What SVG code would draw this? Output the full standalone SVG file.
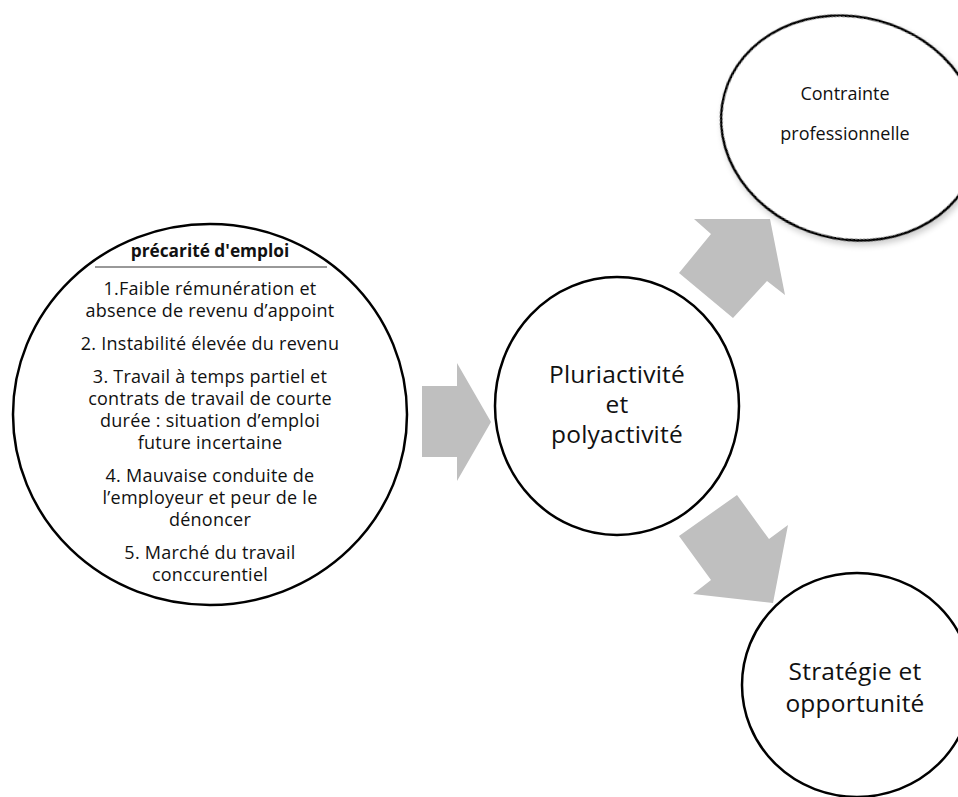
<svg xmlns="http://www.w3.org/2000/svg" width="958" height="797" viewBox="0 0 958 797">
<style>
.node{fill:#ffffff;stroke:#000000;stroke-width:2.5}
.arrow{fill:#bfbfbf;stroke:none}
text{font-family:"Open Sans","Noto Sans","Liberation Sans",sans-serif;fill:#111111;text-anchor:middle}
.small{font-size:18px;letter-spacing:0.25px}
.title{font-size:17.3px;font-weight:bold}
.big{font-size:24.5px;letter-spacing:0.2px}
.mid{font-size:18px}
</style>
<defs>
<filter id="sh" x="-20%" y="-20%" width="140%" height="140%">
<feGaussianBlur in="SourceAlpha" stdDeviation="3"/>
<feOffset dx="3" dy="3" result="b"/>
<feComponentTransfer><feFuncA type="linear" slope="0.2"/></feComponentTransfer>
<feMerge><feMergeNode/><feMergeNode in="SourceGraphic"/></feMerge>
</filter>
</defs>
<rect width="958" height="797" fill="#ffffff"/>
<g id="connectors">
<polygon class="arrow" points="422,386 457,386 457,363 491,422 457,481 457,457 422,457"/>
<polygon class="arrow" points="694,219 770,219 785,295 767,281 733,318 679,273 711,234"/>
<polygon class="arrow" points="737,495 769,539 788,525 773,603 693,594 711,580 679,536"/>
</g>
<g id="node-precarite">
<ellipse class="node" cx="210" cy="414.5" rx="197" ry="190.5"/>
<text class="title" x="210" y="257">précarité d'emploi</text>
<line x1="95" y1="267" x2="327" y2="267" stroke="#333333" stroke-width="1"/>
<text class="small" x="210" y="295">1.Faible rémunération et</text>
<text class="small" x="210" y="317">absence de revenu d’appoint</text>
<text class="small" x="210" y="350">2. Instabilité élevée du revenu</text>
<text class="small" x="210" y="383">3. Travail à temps partiel et</text>
<text class="small" x="210" y="405">contrats de travail de courte</text>
<text class="small" x="210" y="427">durée : situation d’emploi</text>
<text class="small" x="210" y="449">future incertaine</text>
<text class="small" x="210" y="482">4. Mauvaise conduite de</text>
<text class="small" x="210" y="504">l’employeur et peur de le</text>
<text class="small" x="210" y="526">dénoncer</text>
<text class="small" x="210" y="559">5. Marché du travail</text>
<text class="small" x="210" y="581">conccurentiel</text>
</g>
<g id="node-pluriactivite">
<ellipse class="node" cx="617" cy="406" rx="122" ry="129"/>
<text class="big" x="617" y="383">Pluriactivité</text>
<text class="big" x="617" y="413">et</text>
<text class="big" x="617" y="443">polyactivité</text>
</g>
<g id="node-contrainte">
<ellipse class="node" cx="850" cy="128" rx="130" ry="111" transform="rotate(15 850 128)" filter="url(#sh)"/>
<text class="mid" x="845" y="100">Contrainte</text>
<text class="mid" x="845" y="140">professionnelle</text>
</g>
<g id="node-strategie">
<ellipse class="node" cx="857" cy="685" rx="115" ry="112"/>
<text class="big" x="855" y="680">Stratégie et</text>
<text class="big" x="855" y="712">opportunité</text>
</g>
</svg>
